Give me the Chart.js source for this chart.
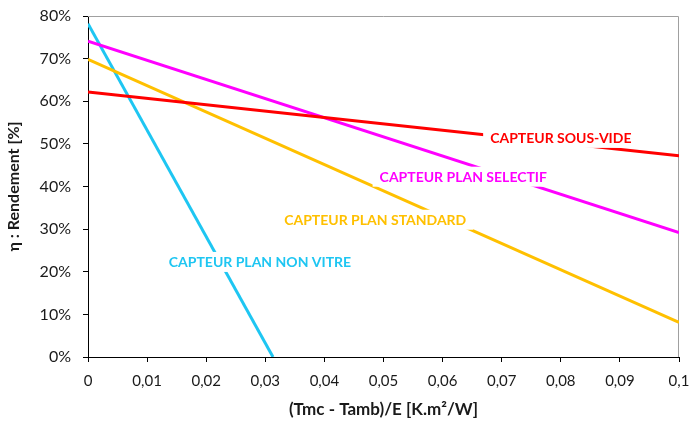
<!DOCTYPE html>
<html>
<head>
<meta charset="utf-8">
<script src="https://cdn.jsdelivr.net/npm/chart.js@4"></script>
<style>
  html, body { margin: 0; padding: 0; background: #fff; }
  #wrap { width: 691px; height: 424px; }
</style>
</head>
<body>
<div id="wrap"><canvas id="chart"></canvas></div>
<script>
// series names and end points (x in K.m²/W, y in %)
const seriesNames = ['CAPTEUR SOUS-VIDE', 'CAPTEUR PLAN SELECTIF', 'CAPTEUR PLAN STANDARD', 'CAPTEUR PLAN NON VITRE'];
const xStart = [0, 0, 0, 0];
const xEnd = [0.1, 0.1, 0.1, 0.0313];
const yStart = [62.2, 74.1, 69.8, 78.2];
const yEnd = [47.2, 29.2, 8.1, 0];
const xTickLabels = ['0', '0,01', '0,02', '0,03', '0,04', '0,05', '0,06', '0,07', '0,08', '0,09', '0,1'];

const colors = ['#ff0000', '#ff00ff', '#ffc000', '#1ec6f2'];
// where each series label sits (data coords)
const labelAt = [[0.0800, 51.4], [0.0635, 42.3], [0.0486, 32.2], [0.0291, 22.3]];

const FONT = 'Lato, "Open Sans", sans-serif';

const datasets = seriesNames.map((name, i) => ({
  label: name,
  data: [{ x: xStart[i], y: yStart[i] }, { x: xEnd[i], y: yEnd[i] }],
  showLine: true,
  borderColor: colors[i],
  backgroundColor: colors[i],
  borderWidth: 3,
  pointRadius: 0,
  tension: 0
}));

// gray frame of the plot area
const frame = {
  id: 'frame',
  beforeDatasetsDraw(chart) {
    const { ctx, chartArea: a } = chart;
    ctx.save();
    ctx.strokeStyle = '#a0a0a0';
    ctx.lineWidth = 1;
    ctx.beginPath();
    ctx.moveTo(a.left, a.top + 0.5);
    ctx.lineTo(a.right - 0.5, a.top + 0.5);
    ctx.lineTo(a.right - 0.5, a.bottom);
    ctx.stroke();
    ctx.restore();
  }
};

// series labels on a white box, cutting the lines
const seriesLabels = {
  id: 'seriesLabels',
  afterDatasetsDraw(chart) {
    const { ctx, scales } = chart;
    ctx.save();
    ctx.font = 'bold 14px ' + FONT;
    ctx.textAlign = 'center';
    ctx.textBaseline = 'middle';
    seriesNames.forEach((name, i) => {
      const px = scales.x.getPixelForValue(labelAt[i][0]);
      const py = scales.y.getPixelForValue(labelAt[i][1]);
      const w = ctx.measureText(name).width;
      ctx.fillStyle = '#fff';
      ctx.fillRect(px - w / 2 - 7, py - 10, w + 14, 20);
      ctx.fillStyle = colors[i];
      ctx.fillText(name, px, py + 1);
    });
    ctx.restore();
  }
};

new Chart(document.getElementById('chart'), {
  type: 'scatter',
  data: { datasets },
  plugins: [frame, seriesLabels],
  options: {
    responsive: true,
    maintainAspectRatio: false,
    animation: false,
    layout: { padding: { top: 16, right: 12, left: 0, bottom: 0 } },
    plugins: {
      legend: { display: false },
      tooltip: { enabled: false }
    },
    scales: {
      x: {
        type: 'linear',
        min: 0,
        max: 0.1,
        afterBuildTicks: s => { s.ticks = xTickLabels.map((t, i) => ({ value: i / 100 })); },
        afterFit: s => { s.height = 67; s.paddingLeft = 0; s.paddingRight = 0; },
        ticks: {
          callback: (v, i) => xTickLabels[i],
          color: '#1a1a1a',
          font: { family: FONT, size: 15 },
          padding: 10,
          maxRotation: 0,
          autoSkip: false
        },
        grid: { drawOnChartArea: false, drawTicks: true, tickLength: 5, color: '#000' },
        border: { display: true, color: '#000', width: 1 },
        title: {
          display: true,
          text: '(Tmc - Tamb)/E [K.m²/W]',
          color: '#1a1a1a',
          font: { family: FONT, size: 17, weight: 'bold' },
          padding: { top: 6 }
        }
      },
      y: {
        min: 0,
        max: 80,
        afterFit: s => { s.width = 88; s.paddingTop = 0; s.paddingBottom = 0; },
        ticks: {
          stepSize: 10,
          callback: v => v + '%',
          color: '#1a1a1a',
          font: { family: FONT, size: 16 },
          padding: 12
        },
        grid: { drawOnChartArea: false, drawTicks: true, tickLength: 5, color: '#000' },
        border: { display: true, color: '#000', width: 1 },
        title: {
          display: true,
          text: 'η : Rendement [%]',
          color: '#1a1a1a',
          font: { family: FONT, size: 16, weight: 'bold' },
          padding: { bottom: 2 }
        }
      }
    }
  }
});
</script>
</body>
</html>
